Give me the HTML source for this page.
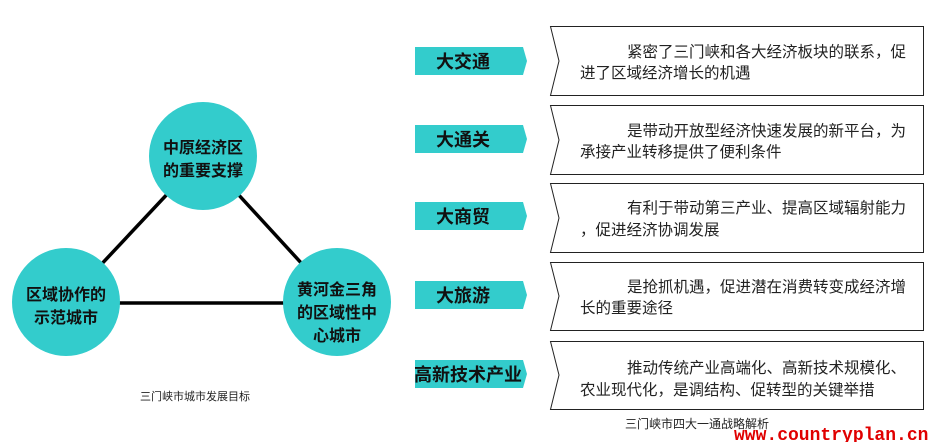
<!DOCTYPE html>
<html><head><meta charset="utf-8"><style>
body{margin:0;width:934px;height:442px;background:#fff;overflow:hidden;font-family:"Liberation Sans","Noto Sans CJK SC",sans-serif}
</style></head><body>
<svg width="934" height="442" xmlns="http://www.w3.org/2000/svg" style="position:absolute;left:0;top:0">
<g stroke="#000" stroke-width="3.5">
<line x1="203" y1="156" x2="66" y2="302"/>
<line x1="203" y1="156" x2="337" y2="302"/>
<line x1="66" y1="303" x2="337" y2="303"/>
</g>
<g fill="#33cccc">
<circle cx="203" cy="156" r="54"/>
<circle cx="66" cy="302" r="54"/>
<circle cx="337" cy="302" r="54"/>
</g>
<g font-family="Liberation Sans,Noto Sans CJK SC,sans-serif" font-weight="bold" font-size="16" fill="#111" text-anchor="middle">
<text x="203" y="153">中原经济区</text><text x="203" y="176">的重要支撑</text>
<text x="66" y="300">区域协作的</text><text x="66" y="323">示范城市</text>
<text x="337" y="295">黄河金三角</text><text x="337" y="318">的区域性中</text><text x="337" y="341">心城市</text>
</g>
<text x="195" y="400" font-size="11" fill="#222" text-anchor="middle" font-family="Liberation Sans,Noto Sans CJK SC,sans-serif">三门峡市城市发展目标</text>
<g fill="#33cccc">
<polygon points="415,47 523,47 527,61 523,75 415,75"/>
<polygon points="415,125 523,125 527,139 523,153 415,153"/>
<polygon points="415,202 523,202 527,216 523,230 415,230"/>
<polygon points="415,281 523,281 527,295 523,309 415,309"/>
<polygon points="415,360 523,360 527,374 523,388 415,388"/>
</g>
<g font-family="Liberation Sans,Noto Sans CJK SC,sans-serif" font-weight="bold" font-size="18" fill="#111">
<text x="436" y="68">大交通</text>
<text x="436" y="146">大通关</text>
<text x="436" y="223">大商贸</text>
<text x="436" y="302">大旅游</text>
<text x="414" y="381">高新技术产业</text>
</g>
<g fill="#fff" stroke="#222" stroke-width="1">
<polygon points="550.5,26.5 923.5,26.5 923.5,95.5 550.5,95.5 559,61"/>
<polygon points="550.5,105.5 923.5,105.5 923.5,174.5 550.5,174.5 559,140"/>
<polygon points="550.5,183.5 923.5,183.5 923.5,252.5 550.5,252.5 559,218"/>
<polygon points="550.5,262.5 923.5,262.5 923.5,330.5 550.5,330.5 559,296"/>
<polygon points="550.5,341.5 923.5,341.5 923.5,409.5 550.5,409.5 559,375"/>
</g>
<g font-family="Liberation Sans,Noto Sans CJK SC,sans-serif" font-size="15.5" fill="#222">
<text x="627" y="57">紧密了三门峡和各大经济板块的联系，促</text>
<text x="580" y="78">进了区域经济增长的机遇</text>
<text x="627" y="136">是带动开放型经济快速发展的新平台，为</text>
<text x="580" y="157">承接产业转移提供了便利条件</text>
<text x="627" y="213">有利于带动第三产业、提高区域辐射能力</text>
<text x="580" y="235">，促进经济协调发展</text>
<text x="627" y="292">是抢抓机遇，促进潜在消费转变成经济增</text>
<text x="580" y="313">长的重要途径</text>
<text x="627" y="373">推动传统产业高端化、高新技术规模化、</text>
<text x="580" y="395">农业现代化，是调结构、促转型的关键举措</text>
</g>
<text x="625" y="428" font-size="12" fill="#222" font-family="Liberation Sans,Noto Sans CJK SC,sans-serif">三门峡市四大一通战略解析</text>
<text x="734" y="440" font-size="18" font-weight="bold" fill="#e00000" font-family="Liberation Mono,monospace">www.countryplan.cn</text>
</svg>
</body></html>
